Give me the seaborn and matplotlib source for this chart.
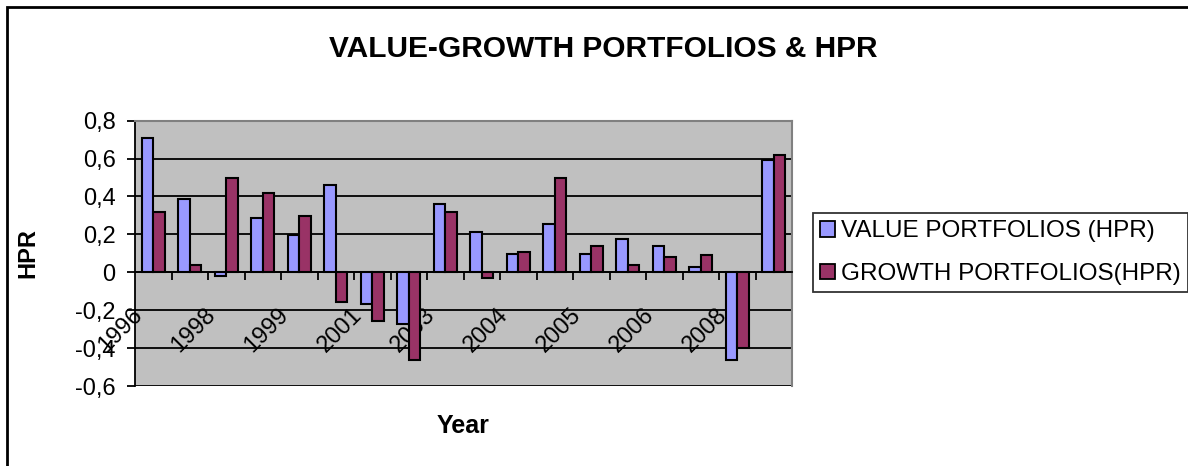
import numpy as np
import pandas as pd
import matplotlib
matplotlib.use("Agg")
import matplotlib.pyplot as plt
import seaborn as sns
from matplotlib.patches import Rectangle
from matplotlib.transforms import ScaledTranslation

# ---- data ----
years = ["1996", "1997", "1998", "1998", "1999", "2000", "2001", "2002", "2003",
         "2003", "2004", "2004", "2005", "2005", "2006", "2007", "2008", "2009"]
value_hpr = [0.71, 0.385, -0.02, 0.285, 0.195, 0.46, -0.166, -0.274, 0.363,
             0.215, 0.098, 0.255, 0.098, 0.177, 0.138, 0.03, -0.463, 0.59]
growth_hpr = [0.32, 0.04, 0.50, 0.42, 0.295, -0.157, -0.255, -0.463, 0.32,
              -0.03, 0.108, 0.50, 0.138, 0.04, 0.079, 0.089, -0.402, 0.62]
series_names = ["VALUE PORTFOLIOS (HPR)", "GROWTH PORTFOLIOS(HPR)"]
y_ticks = [-0.6, -0.4, -0.2, 0, 0.2, 0.4, 0.6, 0.8]

n = len(years)
df = pd.DataFrame({
    "idx": list(range(n)) * 2,
    "val": value_hpr + growth_hpr,
    "series": [series_names[0]] * n + [series_names[1]] * n,
})

sns.set_theme(style="white")
plt.rcParams["font.family"] = ["Liberation Sans", "DejaVu Sans"]
plt.rcParams.update({"text.color": "black", "axes.labelcolor": "black",
                     "xtick.color": "black", "ytick.color": "black"})

W, H = 1188, 466
fig = plt.figure(figsize=(W / 100, H / 100), dpi=100)
ax = fig.add_axes([135 / W, 1 - 386 / H, (792 - 135) / W, (386 - 120.7) / H])
ax.set_facecolor("#C0C0C0")

sns.barplot(data=df, x="idx", y="val", hue="series", order=list(range(n)),
            hue_order=series_names, palette=["#9999FF", "#993366"],
            saturation=1, width=0.62, edgecolor="black", linewidth=1.5,
            ax=ax, legend=True)

ax.set_xlim(-0.5, n - 0.5)
ax.set_ylim(-0.6, 0.8)
ax.set_yticks(y_ticks)
ax.set_yticklabels([("%g" % t).replace(".", ",") for t in y_ticks], fontsize=17)
ax.yaxis.grid(True, color="black", linewidth=1.3)
ax.set_axisbelow(True)

for s in ["top", "right"]:
    ax.spines[s].set_color("#808080")
    ax.spines[s].set_linewidth(1.5)
ax.spines["left"].set_color("black")
ax.spines["left"].set_linewidth(1.3)
ax.spines["bottom"].set_position(("data", 0))
ax.spines["bottom"].set_color("black")
ax.spines["bottom"].set_linewidth(1.3)

ax.tick_params(axis="y", which="major", direction="out", length=6, width=1.3,
               color="black", left=True, pad=8)
# boundary ticks (major) and labels (minor)
ax.set_xticks(np.arange(0.5, n, 1.0))
ax.set_xticklabels([])
ax.tick_params(axis="x", which="major", direction="out", length=6, width=1.3,
               color="black", bottom=True)
lab_pos = list(range(0, n, 2))
ax.set_xticks(lab_pos, minor=True)
ax.set_xticklabels([years[i] for i in lab_pos], minor=True, fontsize=17,
                   rotation=45, ha="right", va="top")
ax.tick_params(axis="x", which="minor", length=0, pad=23)
for lbl in ax.get_xticklabels(minor=True):
    lbl.set_transform(lbl.get_transform() + ScaledTranslation(-0.06, 0, fig.dpi_scale_trans))

ax.set_xlabel("Year", fontsize=18, fontweight="bold")
ax.xaxis.set_label_coords(0.5, -0.105)
ax.set_ylabel("HPR", fontsize=17, fontweight="bold")
ax.yaxis.set_label_coords(-0.145, 0.5)

handles, labels = ax.get_legend_handles_labels()
ax.get_legend().remove()
leg = fig.legend(handles, labels, loc="upper left",
                 bbox_to_anchor=(813 / W, 1 - 213 / H), bbox_transform=fig.transFigure,
                 borderaxespad=0, fontsize=17.5, frameon=True, fancybox=False,
                 edgecolor="black", handlelength=0.62, handleheight=0.62,
                 handletextpad=0.25, labelspacing=0.85, borderpad=0.3)
leg.get_frame().set_linewidth(1.3)
for h in leg.legend_handles:
    h.set_edgecolor("black")
    h.set_linewidth(1.3)

fig.text(603 / W, 1 - 49 / H, "VALUE-GROWTH PORTFOLIOS & HPR", ha="center",
         va="center", fontsize=21.5, fontweight="bold")

fig.patches.append(Rectangle((7 / W, -0.05), 1.05, 1.05 - 7 / H,
                             transform=fig.transFigure, fill=False,
                             edgecolor="black", linewidth=2))

fig.savefig("out.png", dpi=100)
